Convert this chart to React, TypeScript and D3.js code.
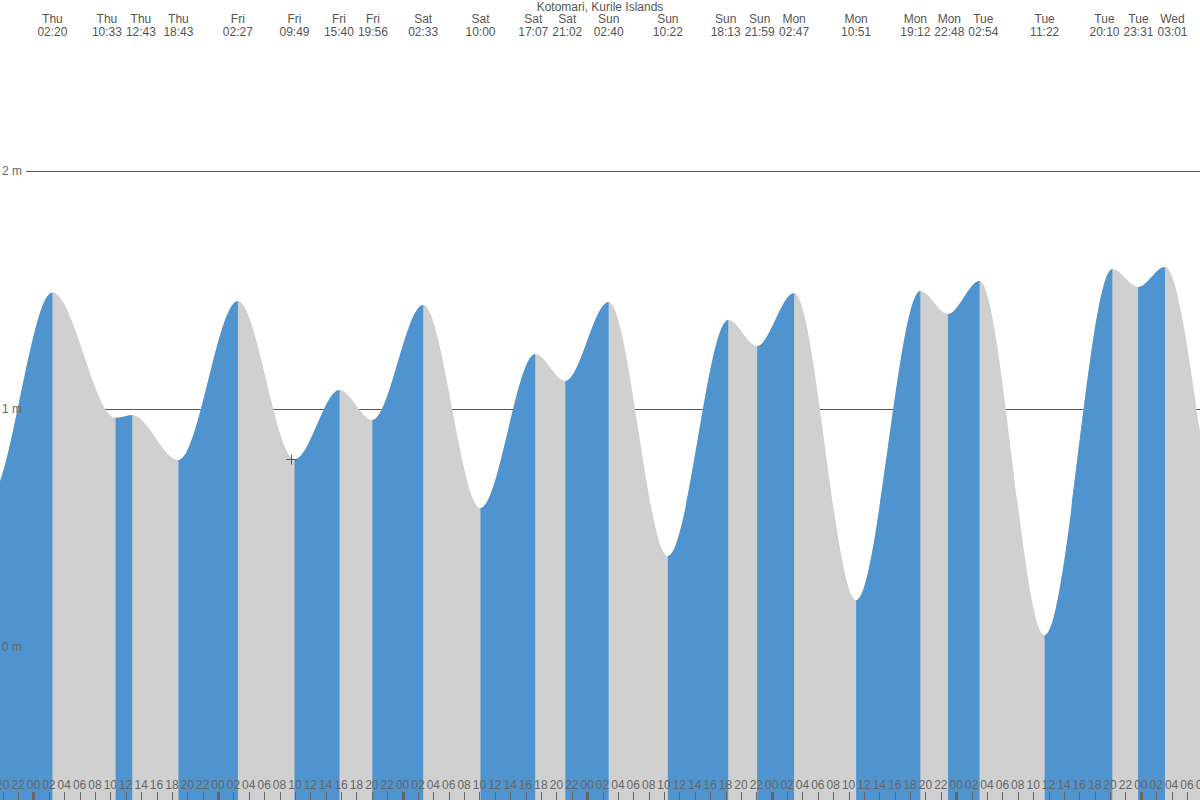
import * as d3 from "d3";
import React, { useEffect, useRef } from "react";

const title = "Kotomari, Kurile Islands";

// tide extremes (UTC used as local clock), first and last two lie off screen
const extremeTimes = [
    "2024-01-03T10:40", "2024-01-03T18:00",
    "2024-01-04T02:20", "2024-01-04T10:33", "2024-01-04T12:43", "2024-01-04T18:43",
    "2024-01-05T02:27", "2024-01-05T09:49", "2024-01-05T15:40", "2024-01-05T19:56",
    "2024-01-06T02:33", "2024-01-06T10:00", "2024-01-06T17:07", "2024-01-06T21:02",
    "2024-01-07T02:40", "2024-01-07T10:22", "2024-01-07T18:13", "2024-01-07T21:59",
    "2024-01-08T02:47", "2024-01-08T10:51", "2024-01-08T19:12", "2024-01-08T22:48",
    "2024-01-09T02:54", "2024-01-09T11:22", "2024-01-09T20:10", "2024-01-09T23:31",
    "2024-01-10T03:01", "2024-01-10T12:00", "2024-01-10T20:30",
];
const extremeLevels = [
    1.45, 0.62,
    1.49, 0.963, 0.975, 0.786,
    1.454, 0.789, 1.08, 0.954,
    1.437, 0.584, 1.231, 1.118,
    1.45, 0.382, 1.374, 1.265,
    1.487, 0.197, 1.496, 1.399,
    1.538, 0.05, 1.588, 1.513,
    1.597, 0.25, 1.6,
];

const levelTicks = [0, 1, 2];
const gridLevels = [1, 2];

const nowTime = "2024-01-05T09:21";
const nowLevel = 0.79;

const viewStart = "2024-01-03T19:31";
const viewEnd = "2024-01-10T07:34";

const W = 1200;
const H = 800;
const BLUE = "#4f94cf";
const GREY = "#d0d0d0";
const FONT = "'Liberation Sans', Arial, sans-serif";
const LABEL_GAP = 34;

const parse = d3.utcParse("%Y-%m-%dT%H:%M");

interface Extreme {
    time: Date;
    level: number;
}

// push neighbouring label centres apart until none overlap
function spreadLabels(xs: number[], gap: number): number[] {
    const out = xs.slice();
    for (let iter = 0; iter < 200; iter++) {
        let moved = false;
        for (let i = 0; i < out.length - 1; i++) {
            const d = out[i + 1] - out[i];
            if (d < gap - 0.01) {
                const shift = (gap - d) / 2;
                out[i] -= shift;
                out[i + 1] += shift;
                moved = true;
            }
        }
        if (!moved) break;
    }
    return out;
}

const App: React.FC = () => {
    const svgRef = useRef<SVGSVGElement>(null);

    useEffect(() => {
        if (!svgRef.current) return;
        const svg = d3.select(svgRef.current);
        svg.selectAll("*").remove();

        const data: Extreme[] = extremeTimes.map((t, i) => ({
            time: parse(t) as Date,
            level: extremeLevels[i],
        }));

        const x = d3
            .scaleUtc()
            .domain([parse(viewStart) as Date, parse(viewEnd) as Date])
            .range([0, W]);
        const y = d3.scaleLinear().domain([0, 2]).range([647, 171]);

        // grid lines under the water
        svg.append("g")
            .selectAll("line")
            .data(gridLevels)
            .join("line")
            .attr("x1", 26)
            .attr("x2", W)
            .attr("y1", (d) => y(d) + 0.5)
            .attr("y2", (d) => y(d) + 0.5)
            .attr("stroke", "#555")
            .attr("stroke-width", 1);

        const area = d3
            .area<Extreme>()
            .x((d) => x(d.time))
            .y0(H)
            .y1((d) => y(d.level))
            .curve(d3.curveMonotoneX);

        svg.append("clipPath")
            .attr("id", "water")
            .append("path")
            .datum(data)
            .attr("d", area);

        svg.append("path").datum(data).attr("fill", GREY).attr("d", area);

        // rising tide: from a low to the following high
        const rising = data
            .slice(0, -1)
            .map((d, i) => [d, data[i + 1]])
            .filter(([a, b]) => b.level > a.level);

        svg.append("g")
            .attr("clip-path", "url(#water)")
            .selectAll("rect")
            .data(rising)
            .join("rect")
            .attr("x", (d) => x(d[0].time))
            .attr("width", (d) => x(d[1].time) - x(d[0].time))
            .attr("y", 0)
            .attr("height", H)
            .attr("fill", BLUE);

        // level labels
        svg.append("g")
            .selectAll("text")
            .data(levelTicks)
            .join("text")
            .attr("x", 2)
            .attr("y", (d) => y(d) + 4)
            .attr("font-family", FONT)
            .attr("font-size", 12)
            .attr("fill", "#666")
            .text((d) => `${d} m`);

        // title and extreme labels
        svg.append("text")
            .attr("x", W / 2)
            .attr("y", 11)
            .attr("text-anchor", "middle")
            .attr("font-family", FONT)
            .attr("font-size", 12)
            .attr("fill", "#555")
            .text(title);

        const visible = data.filter((d) => x(d.time) >= 0 && x(d.time) <= W);
        const labelX = spreadLabels(
            visible.map((d) => x(d.time)),
            LABEL_GAP
        );
        const top = svg
            .append("g")
            .attr("font-family", FONT)
            .attr("font-size", 12)
            .attr("fill", "#555")
            .attr("text-anchor", "middle");
        top.selectAll("text.day")
            .data(visible)
            .join("text")
            .attr("class", "day")
            .attr("x", (_, i) => labelX[i])
            .attr("y", 23)
            .text((d) => d3.utcFormat("%a")(d.time));
        top.selectAll("text.time")
            .data(visible)
            .join("text")
            .attr("class", "time")
            .attr("x", (_, i) => labelX[i])
            .attr("y", 36)
            .text((d) => d3.utcFormat("%H:%M")(d.time));

        // hour axis, running a little past both edges
        const hours = d3.utcHour
            .every(2)!
            .range(
                d3.utcHour.offset(x.domain()[0], -2),
                d3.utcHour.offset(x.domain()[1], 2)
            );
        const axis = svg.append("g");
        axis.selectAll("line")
            .data(hours)
            .join("line")
            .attr("x1", (d) => Math.round(x(d)) - 0.5)
            .attr("x2", (d) => Math.round(x(d)) - 0.5)
            .attr("y1", 792)
            .attr("y2", H)
            .attr("stroke", "#666")
            .attr("stroke-width", (d) => (d.getUTCHours() === 0 ? 3 : 1));
        axis.selectAll("text")
            .data(hours)
            .join("text")
            .attr("x", (d) => x(d) - 1)
            .attr("y", 789)
            .attr("text-anchor", "middle")
            .attr("font-family", FONT)
            .attr("font-size", 12)
            .attr("fill", "#666")
            .text((d) => d3.utcFormat("%H")(d));

        // current time marker
        const nx = Math.round(x(parse(nowTime) as Date)) + 0.5;
        const ny = Math.round(y(nowLevel)) + 0.5;
        svg.append("path")
            .attr("d", `M${nx - 5},${ny}H${nx + 5}M${nx},${ny - 5}V${ny + 5}`)
            .attr("stroke", "#555")
            .attr("stroke-width", 1)
            .attr("fill", "none");
    }, []);

    return (
        <svg
            ref={svgRef}
            width={W}
            height={H}
            style={{ position: "absolute", left: 0, top: 0, background: "#fff" }}
        />
    );
};

export default App;
